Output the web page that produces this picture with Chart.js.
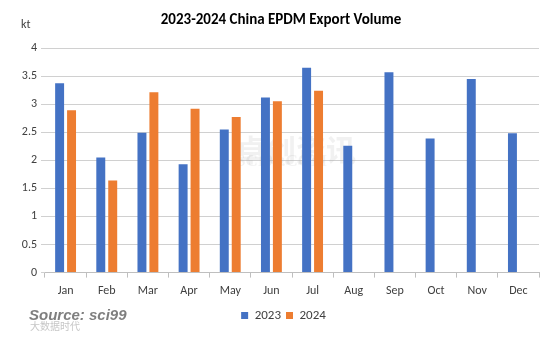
<!DOCTYPE html>
<html><head><meta charset="utf-8">
<script src="https://cdn.jsdelivr.net/npm/chart.js@4"></script>
<style>html,body{margin:0;padding:0;background:#fff}#wrap{width:559px;height:339px;position:relative}</style>
</head><body><div id="wrap"><canvas id="c" width="559" height="339"></canvas></div>
<script>
const months = ['Jan','Feb','Mar','Apr','May','Jun','Jul','Aug','Sep','Oct','Nov','Dec'];
const v2023 = [3.37,2.05,2.49,1.93,2.55,3.12,3.65,2.26,3.57,2.39,3.45,2.48];
const v2024 = [2.89,1.64,3.21,2.92,2.77,3.05,3.24,null,null,null,null,null];
const yTicks = [0,0.5,1,1.5,2,2.5,3,3.5,4];
const FONT = 'Carlito, Lato, "Open Sans", sans-serif';

const textPlugin = {
  id:'texts',
  afterLayout(chart){
    if (chart.legend){ chart.legend.left += 14; chart.legend.right += 14; }
  },
  beforeDatasetsDraw(chart){
    const ctx = chart.ctx; ctx.save();
    ctx.fillStyle='rgba(170,170,170,0.16)';
    ctx.font='bold 30px "Noto Sans CJK SC"';
    ctx.textAlign='left'; ctx.textBaseline='middle';
    ctx.fillText('卓创资讯', 236, 150);
    ctx.font='bold 17px "Liberation Serif"';
    ctx.fillText('SCI99.COM', 236, 162);
    ctx.restore();
  },
  afterDraw(chart){
    const ctx = chart.ctx; ctx.save();
    ctx.fillStyle='#000'; ctx.textAlign='center'; ctx.textBaseline='middle';
    ctx.font='bold 15px '+FONT;
    ctx.fillText('2023-2024 China EPDM Export Volume', 281, 20);
    ctx.fillStyle='#404040'; ctx.font='12px '+FONT; ctx.textAlign='left';
    ctx.fillText('kt', 21, 25);
    ctx.font='italic bold 15px "Liberation Sans"';
    ctx.lineWidth=2; ctx.strokeStyle='rgba(255,255,255,0.9)';
    ctx.strokeText('Source: sci99', 29, 316);
    ctx.fillStyle='#7f7f7f';
    ctx.fillText('Source: sci99', 29, 316);
    ctx.fillStyle='rgba(160,160,160,0.6)'; ctx.font='10px "Noto Sans CJK SC"';
    ctx.fillText('大数据时代', 30, 326);
    ctx.restore();
  }
};

new Chart(document.getElementById('c'), {
  type:'bar',
  data:{labels:months, datasets:[
    {label:'2023', data:v2023, backgroundColor:'#4472C4', categoryPercentage:0.58, barPercentage:0.75},
    {label:'2024', data:v2024, backgroundColor:'#ED7D31', categoryPercentage:0.58, barPercentage:0.75}
  ]},
  options:{
    responsive:false, animation:false,
    layout:{padding:{left:0,right:20,top:48,bottom:7}},
    plugins:{
      title:{display:false},
      tooltip:{enabled:false},
      legend:{position:'bottom', labels:{boxWidth:7, boxHeight:7, color:'#404040', font:{family:FONT,size:13}, padding:5}}
    },
    scales:{
      x:{
        grid:{offset:true, drawOnChartArea:false, drawTicks:true, tickLength:5, color:'#bfbfbf'},
        border:{color:'#bfbfbf'},
        ticks:{color:'#404040', font:{family:FONT,size:12}, padding:6}
      },
      y:{
        min:0, max:4,
        afterBuildTicks(axis){ axis.ticks = yTicks.map(v=>({value:v})); },
        afterFit(axis){ axis.width = 45; },
        grid:{color:'#d0d0d0', tickLength:4},
        border:{display:false},
        ticks:{color:'#404040', font:{family:FONT,size:12}, padding:4, callback:(v)=>String(v)}
      }
    }
  },
  plugins:[textPlugin]
});
</script></body></html>
